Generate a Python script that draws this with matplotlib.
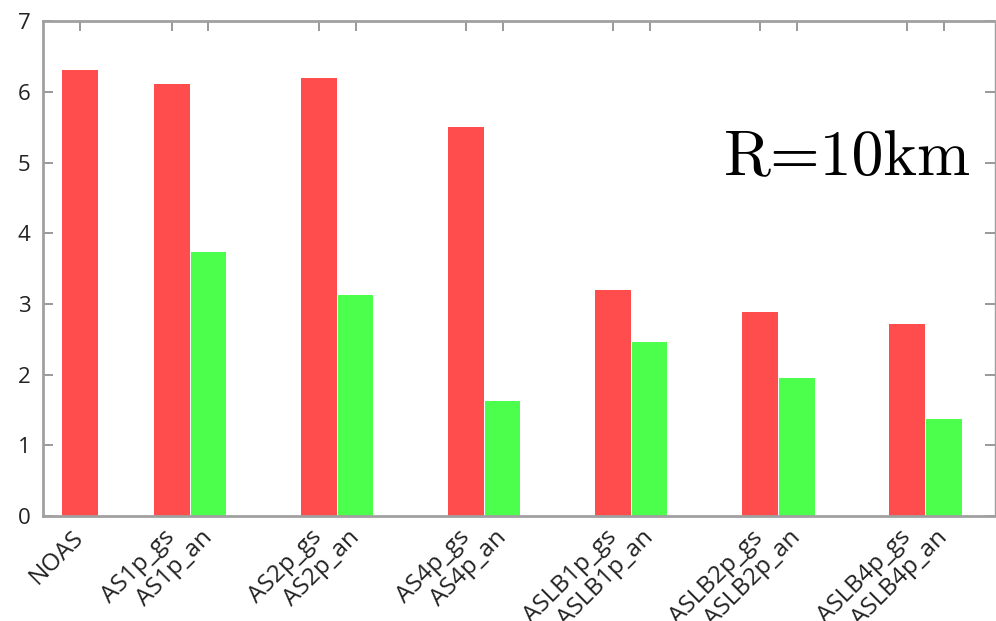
"""Bar chart: NOAS vs AS*/ASLB* variants at R=10km."""

import matplotlib
matplotlib.use("Agg")
import matplotlib.pyplot as plt
import numpy as np

noas_label = "NOAS"
noas_value = 6.31
groups = ["AS1p", "AS2p", "AS4p", "ASLB1p", "ASLB2p", "ASLB4p"]
gs_values = [6.11, 6.20, 5.50, 3.20, 2.89, 2.71]
an_values = [3.73, 3.12, 1.63, 2.46, 1.95, 1.37]
y_ticks = [0, 1, 2, 3, 4, 5, 6, 7]

RED = "#ff4c4c"
GREEN = "#4cff4c"
SPINE = "#a0a0a0"


def main():
    plt.rcParams["font.family"] = ["Open Sans", "DejaVu Sans"]
    fig = plt.figure(figsize=(9.96, 6.21), dpi=100)
    ax = fig.add_axes([0.0432, 0.169, 0.956, 0.797])

    idx = np.arange(len(groups))
    x_noas = 1.0
    x_gs = 3.5 + 4 * idx
    x_an = x_gs + 1.0
    width = 0.97

    ax.bar([x_noas], [noas_value], width=width, color=RED, edgecolor="none")
    ax.bar(x_gs, gs_values, width=width, color=RED, edgecolor="none")
    ax.bar(x_an, an_values, width=width, color=GREEN, edgecolor="none")

    positions = [x_noas] + [p for pair in zip(x_gs, x_an) for p in pair]
    labels = [noas_label] + [f"{g}_{s}" for g in groups for s in ("gs", "an")]
    ax.set_xticks(positions)
    ax.set_xticklabels(labels, rotation=45, ha="right", va="center",
                       rotation_mode="anchor", fontsize=17.5, color="#222222")
    ax.set_yticks(y_ticks)
    ax.set_yticklabels([str(v) for v in y_ticks], fontsize=16, color="#222222")

    ax.set_xlim(0, 25.9)
    ax.set_ylim(0, 7)

    ax.tick_params(axis="both", direction="in", length=7, width=1.2,
                   color="#888888", top=True, right=True)
    ax.tick_params(axis="x", pad=13, bottom=False)
    ax.tick_params(axis="y", pad=9)
    for side, spine in ax.spines.items():
        spine.set_color(SPINE)
        spine.set_linewidth(2.0 if side in ("left", "bottom", "top") else 1.0)

    ax.text(0.715, 0.689, "R=10km", transform=ax.transAxes,
            family="cmr10", fontsize=46, color="black",
            ha="left", va="baseline")

    fig.savefig("out.png", dpi=100)


if __name__ == "__main__":
    main()
